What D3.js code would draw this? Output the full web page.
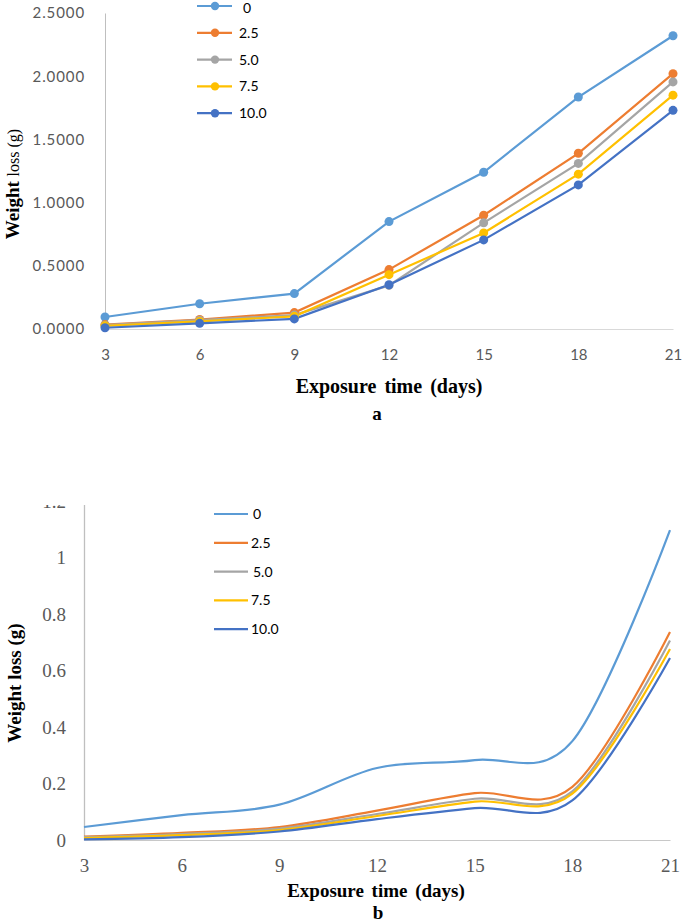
<!DOCTYPE html>
<html>
<head>
<meta charset="utf-8">
<script src="https://cdn.jsdelivr.net/npm/d3@7"></script>
<style>
  html, body { margin: 0; padding: 0; background: #fff; }
  svg { display: block; }
</style>
</head>
<body>
<svg id="chart" width="685" height="924"></svg>
<script>
// ---------- DATA ----------
const days = [3, 6, 9, 12, 15, 18, 21];
const seriesNames = ["0", "2.5", "5.0", "7.5", "10.0"];
const seriesColors = ["#5B9BD5", "#ED7D31", "#A5A5A5", "#FFC000", "#4472C4"];

// Panel a (with markers)
const a_0   = [0.095, 0.200, 0.280, 0.850, 1.240, 1.835, 2.320];
const a_25  = [0.035, 0.075, 0.130, 0.470, 0.900, 1.390, 2.020];
const a_50  = [0.030, 0.070, 0.110, 0.345, 0.840, 1.310, 1.955];
const a_75  = [0.025, 0.060, 0.100, 0.430, 0.760, 1.225, 1.850];
const a_100 = [0.010, 0.045, 0.080, 0.350, 0.705, 1.140, 1.730];
const aTicks = [0, 0.5, 1.0, 1.5, 2.0, 2.5];

// Panel b (smoothed lines)
const b_0   = [0.046, 0.088, 0.125, 0.255, 0.283, 0.350, 1.097];
const b_25  = [0.012, 0.025, 0.046, 0.104, 0.166, 0.188, 0.736];
const b_50  = [0.010, 0.021, 0.040, 0.092, 0.146, 0.172, 0.706];
const b_75  = [0.007, 0.017, 0.035, 0.085, 0.136, 0.164, 0.676];
const b_100 = [0.002, 0.010, 0.030, 0.074, 0.113, 0.140, 0.644];
const bTicks = [0, 0.2, 0.4, 0.6, 0.8, 1, 1.2];

const aSeries = [a_0, a_25, a_50, a_75, a_100];
const bSeries = [b_0, b_25, b_50, b_75, b_100];

const svg = d3.select("#chart");
const AXIS = "#BFBFBF";
const TICKC = "#595959";

// ---------- PANEL A ----------
{
  const x = d3.scaleLinear().domain([3, 21]).range([105, 673]);
  const y = d3.scaleLinear().domain([0, 2.5]).range([329, 13]);
  const g = svg.append("g");

  const ya = g.append("g").attr("transform", "translate(105,0)")
    .call(d3.axisLeft(y).tickValues(aTicks).tickSize(0).tickPadding(20).tickFormat(d3.format(".4f")));
  ya.select(".domain").attr("stroke", AXIS).attr("stroke-width", 1);
  ya.selectAll("text").attr("fill", TICKC).style("font-family", "Lato, 'Open Sans', sans-serif")
    .style("font-size", "15px").style("letter-spacing", "0.9px");

  const xa = g.append("g").attr("transform", "translate(0,329)")
    .call(d3.axisBottom(x).tickValues(days).tickSize(0).tickPadding(20));
  xa.select(".domain").attr("stroke", "#D9D9D9").attr("stroke-width", 1);
  xa.selectAll("text").attr("fill", TICKC).style("font-family", "Lato, 'Open Sans', sans-serif")
    .style("font-size", "15px");

  const line = d3.line().x((d, i) => x(days[i])).y(d => y(d));
  aSeries.forEach((vals, si) => {
    g.append("path").datum(vals).attr("d", line).attr("fill", "none")
      .attr("stroke", seriesColors[si]).attr("stroke-width", 2.2);
  });
  aSeries.forEach((vals, si) => {
    g.selectAll(null).data(vals).enter().append("circle")
      .attr("cx", (d, i) => x(days[i])).attr("cy", d => y(d)).attr("r", 4.5)
      .attr("fill", seriesColors[si]);
  });

  const lg = g.append("g");
  seriesNames.forEach((n, i) => {
    const ly = 6 + i * 26.8;
    lg.append("line").attr("x1", 197).attr("x2", 232).attr("y1", ly).attr("y2", ly)
      .attr("stroke", seriesColors[i]).attr("stroke-width", 2.2);
    lg.append("circle").attr("cx", 215).attr("cy", ly).attr("r", 4.2).attr("fill", seriesColors[i]);
    lg.append("text").attr("x", i === 0 ? 243 : 239).attr("y", i === 0 ? ly + 2.5 : ly).attr("dy", "0.35em")
      .style("font-family", "Lato, 'Open Sans', sans-serif").style("font-size", "14px")
      .attr("fill", "#000").text(n);
  });

  g.append("text").attr("x", 389).attr("y", 393).attr("text-anchor", "middle")
    .style("font-family", "'Liberation Serif', 'Times New Roman', serif").style("font-weight", "bold")
    .style("font-size", "20px").style("word-spacing", "3px").text("Exposure time (days)");
  g.append("text").attr("x", 377).attr("y", 420).attr("text-anchor", "middle")
    .style("font-family", "'Liberation Serif', 'Times New Roman', serif").style("font-weight", "bold")
    .style("font-size", "19px").text("a");
  const yt = g.append("text").attr("transform", "translate(19,184) rotate(-90)").attr("text-anchor", "middle")
    .style("font-family", "'Liberation Serif', 'Times New Roman', serif").style("font-weight", "bold")
    .style("font-size", "19px");
  yt.append("tspan").text("Weight ");
  yt.append("tspan").style("font-size", "16px").style("font-weight", "normal").text("loss (g)");
}

// ---------- PANEL B ----------
{
  const x = d3.scaleLinear().domain([3, 21]).range([84, 670]);
  const y = d3.scaleLinear().domain([0, 1.2]).range([840, 501]);
  const g = svg.append("g");

  svg.append("defs").append("clipPath").attr("id", "clipB")
    .append("rect").attr("x", -200).attr("y", 505).attr("width", 900).attr("height", 421);

  const ya = g.append("g").attr("transform", "translate(84,0)").attr("clip-path", "url(#clipB)")
    .call(d3.axisLeft(y).tickValues(bTicks).tickSize(0).tickPadding(18).tickFormat(d => d3.format("")(d)));
  ya.select(".domain").attr("stroke", AXIS).attr("stroke-width", 1.3);
  ya.selectAll("text").attr("fill", TICKC)
    .style("font-family", "'Liberation Serif', 'Times New Roman', serif").style("font-size", "19px");

  const xa = g.append("g").attr("transform", "translate(0,840)")
    .call(d3.axisBottom(x).tickValues(days).tickSize(0).tickPadding(19));
  xa.select(".domain").attr("stroke", "#C8C8C8").attr("stroke-width", 1);
  xa.selectAll("text").attr("fill", TICKC)
    .style("font-family", "'Liberation Serif', 'Times New Roman', serif").style("font-size", "19px");

  const line = d3.line().x((d, i) => x(days[i])).y(d => y(d)).curve(d3.curveCardinal.tension(0));
  bSeries.forEach((vals, si) => {
    g.append("path").datum(vals).attr("d", line).attr("fill", "none")
      .attr("stroke", seriesColors[si]).attr("stroke-width", 2.2);
  });

  const lg = g.append("g");
  seriesNames.forEach((n, i) => {
    const ly = 514 + i * 28.8;
    lg.append("line").attr("x1", 214).attr("x2", 248).attr("y1", ly).attr("y2", ly)
      .attr("stroke", seriesColors[i]).attr("stroke-width", 2.2);
    lg.append("text").attr("x", i === 0 || i === 2 ? 253 : 251).attr("y", ly).attr("dy", "0.35em")
      .style("font-family", "Lato, 'Open Sans', sans-serif").style("font-size", "14px")
      .attr("fill", "#000").text(n);
  });

  g.append("text").attr("x", 376).attr("y", 897).attr("text-anchor", "middle")
    .style("font-family", "'Liberation Serif', 'Times New Roman', serif").style("font-weight", "bold")
    .style("font-size", "19px").style("word-spacing", "3px").text("Exposure time (days)");
  g.append("text").attr("x", 378).attr("y", 919).attr("text-anchor", "middle")
    .style("font-family", "'Liberation Serif', 'Times New Roman', serif").style("font-weight", "bold")
    .style("font-size", "19px").text("b");
  g.append("text").attr("transform", "translate(21,683) rotate(-90)").attr("text-anchor", "middle")
    .style("font-family", "'Liberation Serif', 'Times New Roman', serif").style("font-weight", "bold")
    .style("font-size", "19px").text("Weight loss (g)");
}
</script>
</body>
</html>
